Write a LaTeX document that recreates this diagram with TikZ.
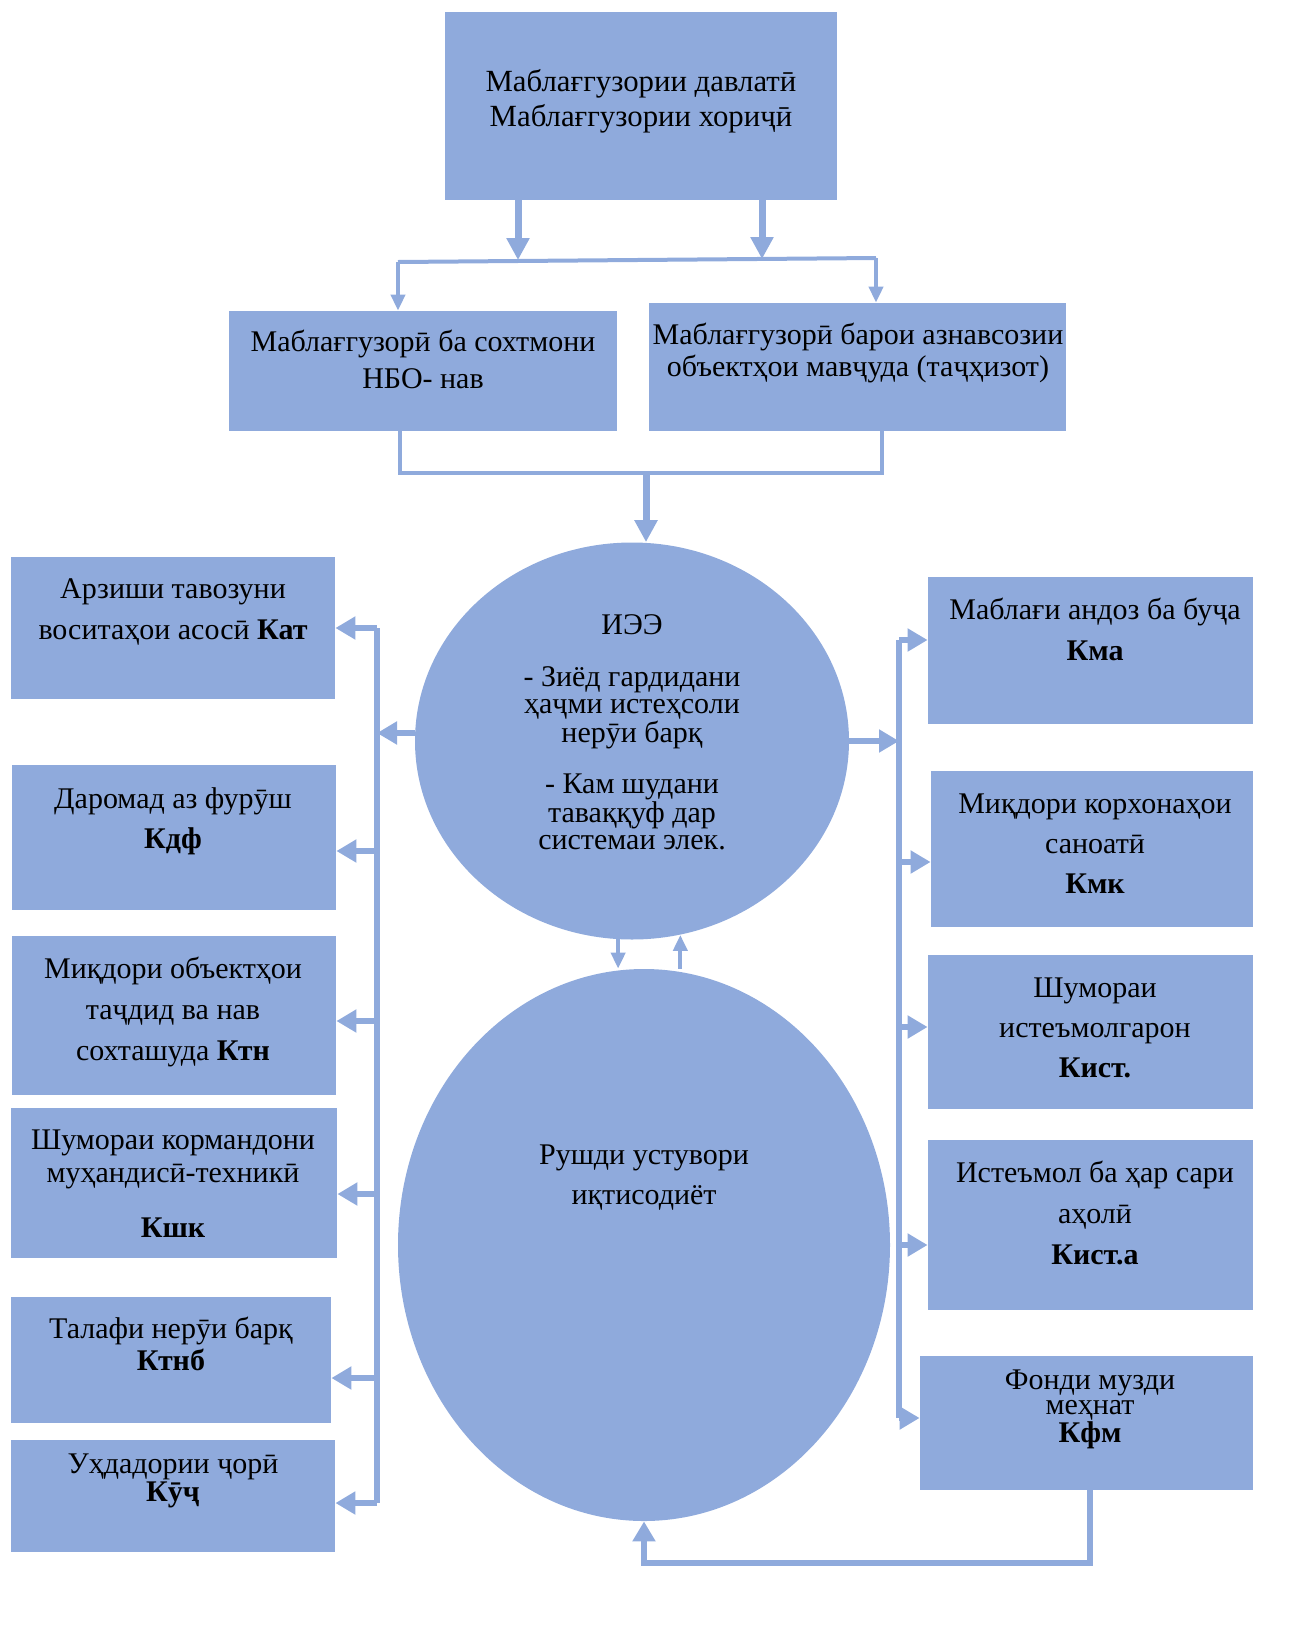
\documentclass[tikz,border=0pt]{standalone}
\usepackage{fontspec}
\setmainfont{Liberation Serif}
\usetikzlibrary{arrows.meta,shapes.geometric,fit,calc}
\definecolor{cb}{HTML}{8FAADC}
\begin{document}
\begin{tikzpicture}[x=0.5pt,y=-0.5pt,
  box/.style={fill=cb, draw=none, inner sep=0pt},
  ell/.style={ellipse, fill=cb, draw=none, inner sep=0pt},
  txt/.style={align=center, inner sep=0pt, anchor=north, font=\fontsize{15}{#1}\selectfont},
  con/.style={draw=cb, line width=2pt},
  bus/.style={draw=cb, line width=3pt},
  ar/.style={draw=cb, line width=3pt, -{Triangle[width=11pt,length=10pt]}},
  fat/.style={draw=cb, line width=3.5pt, -{Triangle[width=11pt,length=11pt]}},
  thinar/.style={draw=cb, line width=2pt, -{Triangle[width=7pt,length=8pt]}},
]
\useasboundingbox (0,0) rectangle (1314,1644);

% boxes
\node[box, fit={(445,12)(837,200)}] (top) {};
\node[box, fit={(229,311)(617,431)}] (nbo) {};
\node[box, fit={(649,303)(1066,431)}] (azn) {};
\node[ell, minimum width=217pt, minimum height=198.5pt] (iee) at (632,741) {};
\node[ell, minimum width=246pt, minimum height=276pt] (rsh) at (644,1245) {};

\node[box, fit={(11,557)(335,699)}] (l1) {};
\node[box, fit={(12,765)(336,910)}] (l2) {};
\node[box, fit={(12,936)(336,1095)}] (l3) {};
\node[box, fit={(11,1108)(337,1258)}] (l4) {};
\node[box, fit={(11,1297)(331,1423)}] (l5) {};
\node[box, fit={(11,1440)(335,1552)}] (l6) {};

\node[box, fit={(928,577)(1253,724)}] (r1) {};
\node[box, fit={(931,771)(1253,927)}] (r2) {};
\node[box, fit={(928,955)(1253,1109)}] (r3) {};
\node[box, fit={(928,1140)(1253,1310)}] (r4) {};
\node[box, fit={(920,1356)(1253,1490)}] (r5) {};

% texts
\node[align=center, inner sep=0pt, anchor=north, font=\fontsize{15.4}{17.5}\selectfont] (ttop) at (641,69) {Маблағгузории давлатӣ\\Маблағгузории хориҷӣ};
\node[txt=18.5] (tnbo) at (423,330) {Маблағгузорӣ ба сохтмони\\НБО- нав};
\node[txt=16] (tazn) at (858,323) {Маблағгузорӣ барои азнавсозии\\объектҳои мавҷуда (таҷҳизот)};
\node[align=center, inner sep=0pt, anchor=north, font=\fontsize{15}{13.5}\selectfont] (tiee) at (632,614)
  {ИЭЭ\\[12.5pt]- Зиёд гардидани\\ҳаҷми истеҳсоли\\нерӯи барқ\\[12pt]- Кам шудани\\таваққуф дар\\системаи элек.};
\node[txt=20] (trsh) at (644,1144) {Рушди устувори\\иқтисодиёт};

\node[txt=20.5] (tl1) at (173,578) {Арзиши тавозуни\\воситаҳои асосӣ \textbf{Кат}};
\node[txt=20] (tl2) at (173,787) {Даромад аз фурӯш\\\textbf{Кдф}};
\node[txt=20.5] (tl3) at (173,957) {Миқдори объектҳои\\таҷдид ва нав\\сохташуда \textbf{Ктн}};
\node[txt=16.5] (tl4) at (173,1129) {Шумораи кормандони\\муҳандисӣ-техникӣ\\[11pt]\textbf{Кшк}};
\node[txt=16] (tl5) at (171,1317) {Талафи нерӯи барқ\\\textbf{Ктнб}};
\node[txt=12] (tl6) at (173,1453) {Уҳдадории ҷорӣ\\\textbf{Кӯҷ}};

\node[txt=20.5] (tr1) at (1095,598) {Маблағи андоз ба буҷа\\\textbf{Кма}};
\node[txt=20] (tr2) at (1095,793) {Миқдори корхонаҳои\\саноатӣ\\\textbf{Кмк}};
\node[txt=20] (tr3) at (1095,977) {Шумораи\\истеъмолгарон\\\textbf{Кист.}};
\node[txt=20.5] (tr4) at (1095,1161) {Истеъмол ба ҳар сари\\аҳолӣ\\\textbf{Кист.а}};
\node[txt=12.5] (tr5) at (1090,1369) {Фонди музди\\меҳнат\\\textbf{Кфм}};

% top connectors
\coordinate (hL) at (398,262);
\coordinate (hR) at (876,258);
\coordinate (j1) at (518,260);
\coordinate (j2) at (762,259);
\draw[fat] (j1 |- top.south) -- (j1);
\draw[fat] (j2 |- top.south) -- (j2);
\draw[con] (hL) -- (hR);
\draw[thinar] (hL) -- (hL |- nbo.north);
\draw[thinar] (hR) -- (hR |- azn.north);

% join to ИЭЭ
\coordinate (bL) at (400,473);
\coordinate (bR) at (882,473);
\coordinate (bM) at (646,473);
\draw[con] (bL |- nbo.south) -- (bL) -- (bR) -- (bR |- azn.south);
\draw[fat] (bM) -- (bM |- iee.north);

% between ellipses
\draw[thinar] (iee.-94) -- (iee.-94 |- rsh.north);
\draw[thinar] (iee.-76 |- rsh.north) -- (iee.-76);

% left bus
\coordinate (LT) at (377,628);
\coordinate (LB) at (377,1503);
\coordinate (LE) at (377,733);
\draw[bus] (LT) -- (LB);
\draw[ar] (iee.west |- LE) -- (LE);
\draw[ar] (LT) -- (LT -| l1.east);
\draw[ar] (LT |- 0,851) -- (l2.east |- 0,851);
\draw[ar] (LT |- 0,1021) -- (l3.east |- 0,1021);
\draw[ar] (LT |- 0,1194) -- (l4.east |- 0,1194);
\draw[ar] (LT |- 0,1378) -- (l5.east |- 0,1378);
\draw[ar] (LB) -- (LB -| l6.east);

% right bus
\coordinate (RT) at (899,640);
\coordinate (RB) at (899,1418);
\draw[bus] (RT) -- (RB);
\draw[ar] (iee.east) -- (iee.east -| RT);
\draw[ar] (RT) -- (RT -| r1.west);
\draw[ar] (RT |- 0,862) -- (r2.west |- 0,862);
\draw[ar] (RT |- 0,1027) -- (r3.west |- 0,1027);
\draw[ar] (RT |- 0,1245) -- (r4.west |- 0,1245);
\draw[ar] (RB) -- (RB -| r5.west);

% feedback
\coordinate (fb) at (1090,1563);
\draw[ar] (r5.south -| fb) -- (fb) -- (fb -| rsh.south) -- (rsh.south);
\end{tikzpicture}
\end{document}
